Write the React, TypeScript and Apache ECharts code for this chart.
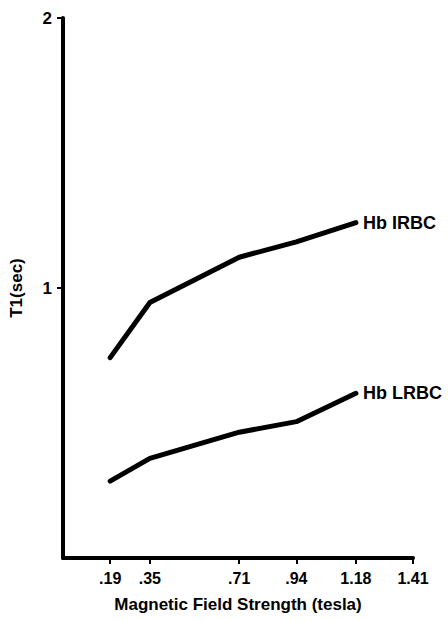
import React, { useEffect, useRef } from "react";
import * as echarts from "echarts";

// Field strengths (tesla) at which T1 was measured
const fieldStrength = [0.19, 0.35, 0.71, 0.94, 1.18];
// T1 relaxation times (sec)
const hbIRBC = [0.742, 0.946, 1.114, 1.171, 1.242];
const hbLRBC = [0.285, 0.369, 0.466, 0.505, 0.61];
const seriesNames = ["Hb IRBC", "Hb LRBC"];
// Axis tick values
const xTicks = [0.19, 0.35, 0.71, 0.94, 1.18, 1.41];
const yTicks = [1, 2];

const FONT = "'Liberation Sans', Arial, Helvetica, sans-serif";

function buildSeries(name: string, values: number[]) {
  return {
    name,
    type: "line",
    symbol: "none",
    lineStyle: { color: "#000", width: 5, cap: "round", join: "round" },
    endLabel: {
      show: true,
      formatter: "{a}",
      distance: 7,
      color: "#000",
      fontSize: 18,
      fontWeight: "bold",
      fontFamily: FONT,
    },
    data: values.map((v, i) => [fieldStrength[i], v]),
  };
}

export default function App() {
  const ref = useRef<HTMLDivElement>(null);

  useEffect(() => {
    if (!ref.current) return;
    const chart = echarts.init(ref.current, null, { renderer: "svg" });
    chart.setOption({
      animation: false,
      backgroundColor: "#fff",
      grid: { left: 59, right: 35, top: 18, bottom: 63 },
      xAxis: {
        type: "value",
        min: 0,
        max: 1.41,
        name: "Magnetic Field Strength (tesla)",
        nameLocation: "middle",
        nameGap: 38,
        nameTextStyle: { color: "#000", fontSize: 17, fontWeight: "bold", fontFamily: FONT },
        axisLine: { show: true, lineStyle: { color: "#000", width: 4 } },
        axisTick: {
          show: true,
          customValues: xTicks,
          length: 6,
          lineStyle: { color: "#000", width: 2 },
        },
        axisLabel: {
          customValues: xTicks,
          margin: 12,
          color: "#000",
          fontSize: 16,
          fontWeight: "bold",
          fontFamily: FONT,
          formatter: (v: number) => v.toFixed(2).replace(/^0/, ""),
        },
        splitLine: { show: false },
      },
      yAxis: {
        type: "value",
        min: 0,
        max: 2,
        name: "T1(sec)",
        nameLocation: "middle",
        nameGap: 38,
        nameTextStyle: { color: "#000", fontSize: 17, fontWeight: "bold", fontFamily: FONT },
        axisLine: { show: true, lineStyle: { color: "#000", width: 4 } },
        axisTick: {
          show: true,
          customValues: yTicks,
          length: 6,
          lineStyle: { color: "#000", width: 2 },
        },
        axisLabel: {
          customValues: yTicks,
          margin: 11,
          color: "#000",
          fontSize: 17,
          fontWeight: "bold",
          fontFamily: FONT,
        },
        splitLine: { show: false },
      },
      series: [
        buildSeries(seriesNames[0], hbIRBC),
        buildSeries(seriesNames[1], hbLRBC),
      ],
    });
    return () => chart.dispose();
  }, []);

  return (
    <div
      ref={ref}
      style={{ position: "fixed", left: 0, top: 0, width: 448, height: 621, background: "#fff" }}
    />
  );
}
